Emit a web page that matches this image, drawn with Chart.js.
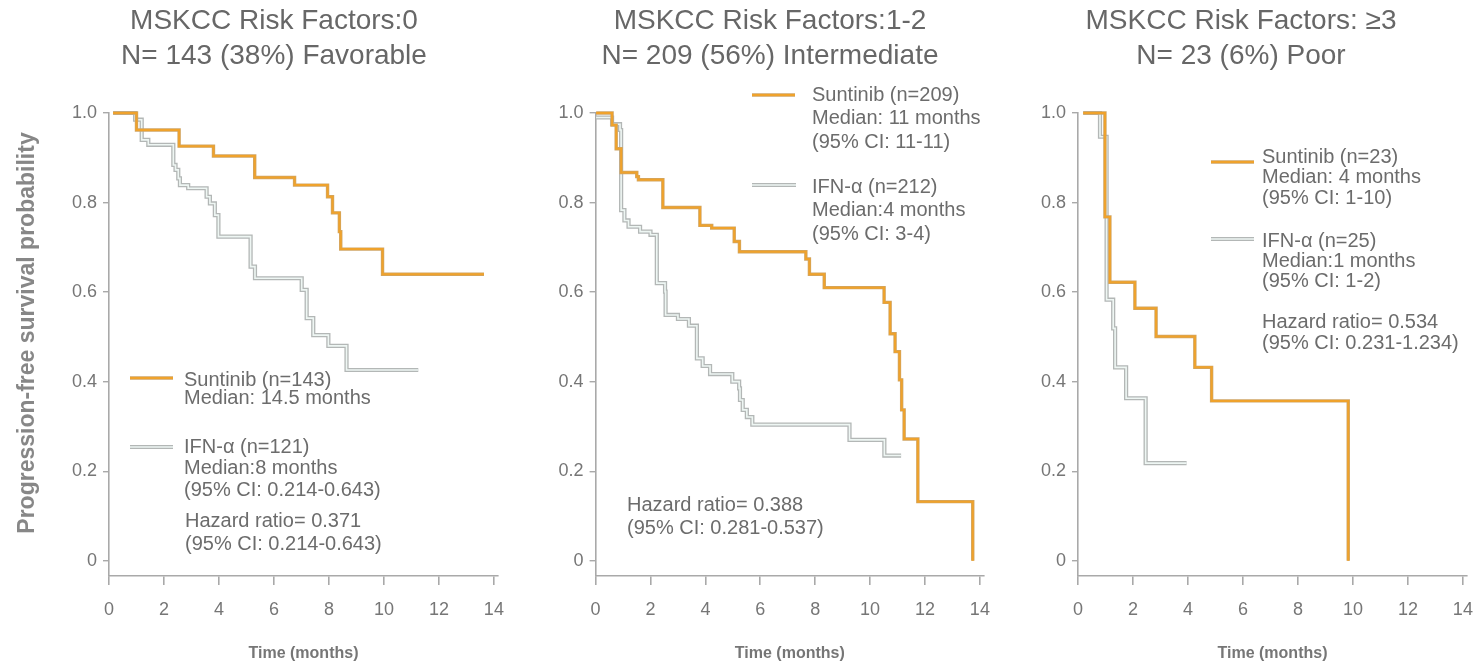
<!DOCTYPE html>
<html>
<head>
<meta charset="utf-8">
<title>PFS by MSKCC risk group</title>
<script src="https://cdn.jsdelivr.net/npm/chart.js@4.4.1/dist/chart.umd.min.js"></script>
<style>
  html, body { margin: 0; padding: 0; background: #fff; }
  body { width: 1478px; height: 665px; position: relative; overflow: hidden; }
  .panel { position: absolute; top: 0; height: 665px; }
  #p1 { left: 0; width: 540px; }
  #p2 { left: 540px; width: 460px; }
  #p3 { left: 1000px; width: 478px; }
</style>
</head>
<body>
<div class="panel" id="p1"><canvas id="c1" width="540" height="665"></canvas></div>
<div class="panel" id="p2"><canvas id="c2" width="460" height="665"></canvas></div>
<div class="panel" id="p3"><canvas id="c3" width="478" height="665"></canvas></div>

<script>
/***** Data *****/
// Axis ticks
const timeTicks = [0, 2, 4, 6, 8, 10, 12, 14];
const probTicks = [0, 0.2, 0.4, 0.6, 0.8, 1.0];
const probTickLabels = ["0", "0.2", "0.4", "0.6", "0.8", "1.0"];

// Risk factors: 0 (favorable)
const favSunTime = [0.15, 1.0, 2.55, 3.8, 5.3, 6.75, 7.95, 8.13, 8.38, 8.43, 9.95, 13.64];
const favSunProb = [1.0, 0.962, 0.926, 0.904, 0.856, 0.839, 0.813, 0.777, 0.735, 0.696, 0.64, 0.64];
const favIfnTime = [0.15, 0.95, 1.19, 1.43, 2.34, 2.42, 2.52, 2.58, 2.88, 3.55, 3.67, 3.85, 3.98, 5.15, 5.31, 7.01, 7.19, 7.43, 7.98, 8.64, 11.25];
const favIfnProb = [1.0, 0.985, 0.94, 0.929, 0.884, 0.873, 0.854, 0.839, 0.832, 0.813, 0.798, 0.772, 0.724, 0.657, 0.631, 0.605, 0.542, 0.504, 0.48, 0.426, 0.426];

// Risk factors: 1-2 (intermediate)
const intSunTime = [0.02, 0.6, 0.75, 0.93, 1.5, 1.56, 2.45, 3.8, 4.23, 5.05, 5.24, 7.66, 7.79, 8.33, 10.51, 10.73, 10.91, 11.07, 11.15, 11.24, 11.74, 13.74];
const intSunProb = [1.0, 0.973, 0.92, 0.867, 0.858, 0.851, 0.789, 0.749, 0.743, 0.713, 0.69, 0.674, 0.64, 0.61, 0.577, 0.507, 0.467, 0.404, 0.337, 0.272, 0.132, 0.0];
const intIfnTime = [0.02, 0.6, 0.89, 0.93, 1.05, 1.2, 1.62, 2.0, 2.23, 2.53, 2.55, 3.0, 3.4, 3.69, 3.9, 4.17, 4.98, 5.23, 5.26, 5.36, 5.51, 5.71, 9.25, 10.52, 11.13];
const intIfnProb = [0.99, 0.975, 0.962, 0.783, 0.76, 0.746, 0.735, 0.728, 0.62, 0.601, 0.549, 0.54, 0.525, 0.452, 0.435, 0.417, 0.4, 0.385, 0.359, 0.337, 0.321, 0.304, 0.27, 0.235, 0.235];

// Risk factors: >=3 (poor)
const poorSunTime = [0.19, 0.98, 1.16, 2.07, 2.84, 4.25, 4.86, 9.83];
const poorSunProb = [1.0, 0.768, 0.622, 0.564, 0.501, 0.432, 0.357, 0.0];
const poorIfnTime = [0.19, 0.8, 1.04, 1.28, 1.35, 1.75, 2.46, 3.95];
const poorIfnProb = [1.0, 0.947, 0.583, 0.519, 0.432, 0.363, 0.218, 0.218];

// Text
const favTitle = ["MSKCC Risk Factors:0", "N= 143 (38%) Favorable"];
const intTitle = ["MSKCC Risk Factors:1-2", "N= 209 (56%) Intermediate"];
const poorTitle = ["MSKCC Risk Factors: \u22653", "N= 23 (6%) Poor"];

const favSunNote = ["Suntinib (n=143)", "Median: 14.5 months"];
const favIfnNote = ["IFN-\u03b1 (n=121)", "Median:8 months", "(95% CI: 0.214-0.643)"];
const favHrNote = ["Hazard ratio= 0.371", "(95% CI: 0.214-0.643)"];
const intSunNote = ["Suntinib (n=209)", "Median: 11 months", "(95% CI: 11-11)"];
const intIfnNote = ["IFN-\u03b1 (n=212)", "Median:4 months", "(95% CI: 3-4)"];
const intHrNote = ["Hazard ratio= 0.388", "(95% CI: 0.281-0.537)"];
const poorSunNote = ["Suntinib (n=23)", "Median: 4 months", "(95% CI: 1-10)"];
const poorIfnNote = ["IFN-\u03b1 (n=25)", "Median:1 months", "(95% CI: 1-2)"];
const poorHrNote = ["Hazard ratio= 0.534", "(95% CI: 0.231-1.234)"];

/***** Styles *****/
const FONT = "'Liberation Sans', Arial, sans-serif";
const axisGray = "#a9a9a9";
const tickGray = "#767676";
const textGray = "#6c6c6c";
const sunEdge = "#cfa565";
const sunCore = "#efa22c";
const ifnEdge = "#b3b7b6";
const ifnCore = "#eef6f3";

/***** Helpers *****/
const toPoints = (times, probs) => times.map((t, i) => ({ x: t, y: probs[i] }));

// one KM curve as library line datasets (stepped, no points)
const curve = (data, color, width) => ({
  data: data,
  borderColor: color,
  borderWidth: width,
  pointRadius: 0,
  stepped: true,
  fill: false,
  clip: false,
  borderJoinStyle: "miter",
});

// draws a legend line sample in the same look as the curves
const drawSample = (ctx, kind, x1, x2, y) => {
  const layers = kind === "sun"
    ? [[sunEdge, 3.4], [sunCore, 2]]
    : [[ifnEdge, 4.2], [ifnCore, 1.6]];
  layers.forEach(([color, w]) => {
    ctx.strokeStyle = color;
    ctx.lineWidth = w;
    ctx.beginPath();
    ctx.moveTo(x1, y);
    ctx.lineTo(x2, y);
    ctx.stroke();
  });
};

// Plugin: panel heading, y-axis title and the text notes
const kmText = {
  id: "kmText",
  afterDraw(chart, args, opts) {
    const ctx = chart.ctx;
    ctx.save();
    ctx.textBaseline = "middle";

    ctx.fillStyle = "#676767";
    ctx.textAlign = "center";
    ctx.font = "28px " + FONT;
    opts.title.forEach((line, i) => ctx.fillText(line, opts.titleX, opts.titleY[i]));

    if (opts.yTitle) {
      ctx.save();
      ctx.translate(opts.yTitle.x, opts.yTitle.y);
      ctx.rotate(-Math.PI / 2);
      ctx.fillStyle = "#878787";
      ctx.font = "bold 23px " + FONT;
      ctx.fillText(opts.yTitle.text, 0, 0);
      ctx.restore();
    }

    ctx.textAlign = "left";
    ctx.font = "20px " + FONT;
    opts.notes.forEach((note) => {
      if (note.sample) drawSample(ctx, note.sample, note.sx1, note.sx2, note.sy);
      ctx.fillStyle = textGray;
      note.lines.forEach((line, i) => ctx.fillText(line, note.x, note.y + i * note.gap));
    });
    ctx.restore();
  },
};

const makeChart = (cfg) => {
  const sun = toPoints(cfg.sunTime, cfg.sunProb);
  const ifn = toPoints(cfg.ifnTime, cfg.ifnProb);

  return new Chart(document.querySelector(cfg.canvas), {
    type: "line",
    data: {
      datasets: [
        curve(sun, sunCore, 2),
        curve(sun, sunEdge, 3.4),
        curve(ifn, ifnCore, 1.6),
        curve(ifn, ifnEdge, 4.2),
      ],
    },
    plugins: [kmText],
    options: {
      responsive: false,
      animation: false,
      events: [],
      layout: { padding: { left: 0, right: cfg.padRight, top: 113, bottom: 0 } },
      plugins: {
        legend: { display: false },
        tooltip: { enabled: false },
        kmText: { title: cfg.title, titleX: cfg.titleX, titleY: [21, 56], yTitle: cfg.yTitle, notes: cfg.notes },
      },
      scales: {
        x: {
          type: "linear",
          min: 0,
          max: 14.15,
          afterBuildTicks: (s) => { s.ticks = timeTicks.map((v) => ({ value: v })); },
          afterFit: (s) => { s.height = 89; s.paddingLeft = 0; s.paddingRight = 0; },
          border: { color: axisGray, width: 1.6 },
          grid: { drawOnChartArea: false, tickLength: 9, color: axisGray, lineWidth: 1.6 },
          ticks: { color: tickGray, font: { family: FONT, size: 18 }, padding: 14, maxRotation: 0, autoSkip: false },
          title: {
            display: true,
            text: "Time (months)",
            color: "#767676",
            font: { family: FONT, size: 16, weight: "bold" },
            padding: { top: 0, bottom: 2 },
          },
        },
        y: {
          type: "linear",
          min: -0.034,
          max: 1.0,
          afterBuildTicks: (s) => { s.ticks = probTicks.map((v) => ({ value: v })); },
          afterFit: (s) => { s.width = cfg.yWidth; s.paddingTop = 0; s.paddingBottom = 0; },
          border: { color: axisGray, width: 1.6 },
          grid: { drawOnChartArea: false, tickLength: 6, color: axisGray, lineWidth: 1.4 },
          ticks: {
            color: tickGray,
            font: { family: FONT, size: 18 },
            padding: 6,
            callback: (value, index) => probTickLabels[index],
          },
        },
      },
    },
  });
};

/***** Panels *****/
makeChart({
  canvas: "#c1",
  sunTime: favSunTime, sunProb: favSunProb, ifnTime: favIfnTime, ifnProb: favIfnProb,
  yWidth: 109, padRight: 42,
  title: favTitle, titleX: 274,
  yTitle: { text: "Progression-free survival probability", x: 28, y: 333 },
  notes: [
    { lines: favSunNote, x: 184, y: 380, gap: 18.5, sample: "sun", sx1: 130, sx2: 173, sy: 378 },
    { lines: favIfnNote, x: 184, y: 447, gap: 21.5, sample: "ifn", sx1: 130, sx2: 173, sy: 447 },
    { lines: favHrNote, x: 185, y: 521, gap: 23 },
  ],
});

makeChart({
  canvas: "#c2",
  sunTime: intSunTime, sunProb: intSunProb, ifnTime: intIfnTime, ifnProb: intIfnProb,
  yWidth: 55.6, padRight: 16,
  title: intTitle, titleX: 230,
  notes: [
    { lines: intSunNote, x: 272, y: 95, gap: 23.5, sample: "sun", sx1: 212, sx2: 255, sy: 95 },
    { lines: intIfnNote, x: 272, y: 187, gap: 23.5, sample: "ifn", sx1: 212, sx2: 256, sy: 185 },
    { lines: intHrNote, x: 87, y: 505, gap: 23.3 },
  ],
});

makeChart({
  canvas: "#c3",
  sunTime: poorSunTime, sunProb: poorSunProb, ifnTime: poorIfnTime, ifnProb: poorIfnProb,
  yWidth: 78, padRight: 11,
  title: poorTitle, titleX: 241,
  notes: [
    { lines: poorSunNote, x: 262, y: 157, gap: 20.6, sample: "sun", sx1: 211, sx2: 254, sy: 162 },
    { lines: poorIfnNote, x: 262, y: 241, gap: 20, sample: "ifn", sx1: 211, sx2: 254, sy: 239 },
    { lines: poorHrNote, x: 262, y: 322, gap: 21.6 },
  ],
});
</script>
</body>
</html>
